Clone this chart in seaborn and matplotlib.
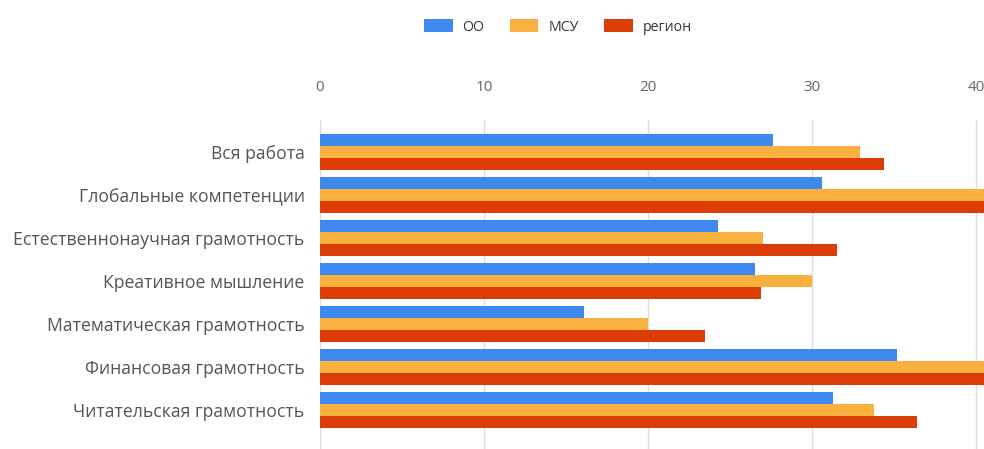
import matplotlib
matplotlib.use("Agg")
import matplotlib.pyplot as plt
import seaborn as sns
import pandas as pd
from matplotlib.patches import Patch

categories = ["Вся работа", "Глобальные компетенции", "Естественнонаучная грамотность",
              "Креативное мышление", "Математическая грамотность",
              "Финансовая грамотность", "Читательская грамотность"]
series_names = ["ОО", "МСУ", "регион"]
oo = [27.6, 30.6, 24.3, 26.5, 16.1, 35.2, 31.3]
msu = [32.9, 44.0, 27.0, 30.0, 20.0, 45.0, 33.8]
region = [34.4, 46.0, 31.5, 26.9, 23.5, 46.0, 36.4]
xticks = [0, 10, 20, 30, 40]
colors = ["#3f88ee", "#f8b03e", "#dc3d06"]

rows = []
for name, vals in zip(series_names, [oo, msu, region]):
    for c, v in zip(categories, vals):
        rows.append({"cat": c, "series": name, "value": v})
df = pd.DataFrame(rows)

sns.set_theme(style="white")
plt.rcParams['font.family'] = ['Open Sans', 'DejaVu Sans']

fig = plt.figure(figsize=(9.84, 4.49), dpi=100)
ax = fig.add_axes([0.325, 0.0, 0.70, 0.733])
sns.barplot(data=df, y="cat", x="value", hue="series", order=categories,
            hue_order=series_names, palette=colors, orient="h", width=0.84,
            saturation=1, ax=ax, legend=False, edgecolor="none")

ax.set_xlim(0, 40 * (1.025 * 984 - 320) / (976 - 320))
ax.set_ylim(6.91, -0.744)
ax.set_xticks(xticks)
ax.xaxis.tick_top()
ax.tick_params(axis="x", length=0, pad=18, labelsize=11, labelcolor="#666666")
ax.tick_params(axis="y", length=0, pad=11, labelsize=12.7, labelcolor="#555555")
ax.set_xlabel("")
ax.set_ylabel("")
ax.grid(axis="x", color="#dddddd", linewidth=1)
ax.set_axisbelow(True)
for s in ax.spines.values():
    s.set_visible(False)

handles = [Patch(facecolor=c, edgecolor="none") for c in colors]
fig.legend(handles, series_names, loc="center", bbox_to_anchor=(0.567, 0.94), ncol=3,
           frameon=False, fontsize=10.2, handlelength=2.0, handleheight=1.0,
           columnspacing=1.8, handletextpad=0.7, labelcolor="#333333")

fig.savefig("out.png", dpi=100)
